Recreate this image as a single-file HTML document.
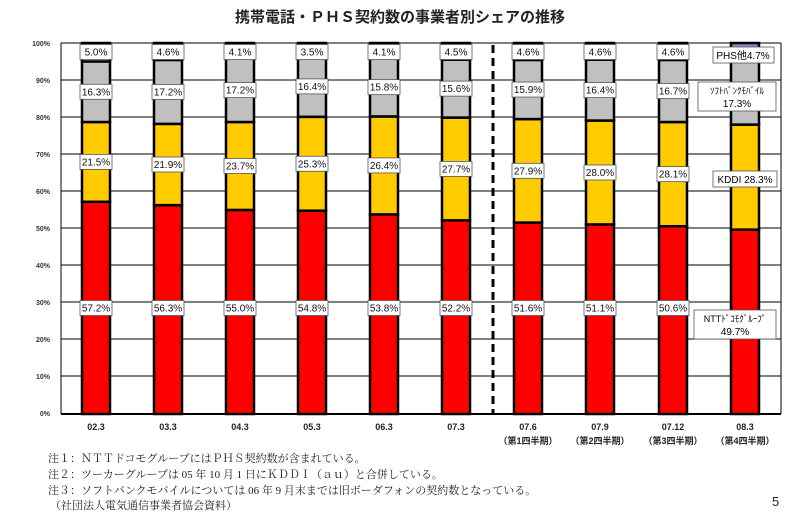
<!DOCTYPE html>
<html><head><meta charset="utf-8"><style>
body{margin:0;background:#fff}
svg{display:block}
text{font-family:"Liberation Sans","Noto Sans CJK JP",sans-serif}
text.serif{font-family:"Liberation Serif","Noto Serif CJK SC",serif}
</style></head><body>
<svg width="800" height="522" xmlns="http://www.w3.org/2000/svg">
<text x="400" y="22" text-anchor="middle" font-size="15" font-weight="bold" fill="#222">携帯電話・ＰＨＳ契約数の事業者別シェアの推移</text>
<g stroke="#000" stroke-width="1">
<line x1="61" y1="43" x2="781" y2="43"/><line x1="61" y1="80" x2="781" y2="80"/><line x1="61" y1="117" x2="781" y2="117"/><line x1="61" y1="154" x2="781" y2="154"/><line x1="61" y1="191" x2="781" y2="191"/><line x1="61" y1="228" x2="781" y2="228"/><line x1="61" y1="265" x2="781" y2="265"/><line x1="61" y1="302" x2="781" y2="302"/><line x1="61" y1="339" x2="781" y2="339"/><line x1="61" y1="376" x2="781" y2="376"/>
<line x1="61" y1="43" x2="61" y2="414"/><line x1="781" y1="43" x2="781" y2="414"/>
</g>
<line x1="61" y1="414" x2="781" y2="414" stroke="#000" stroke-width="2"/>
<g font-size="7" fill="#333" text-anchor="end" font-weight="bold">
<text x="50" y="46">100%</text><text x="50" y="83">90%</text><text x="50" y="120">80%</text><text x="50" y="157">70%</text><text x="50" y="194">60%</text><text x="50" y="231">50%</text><text x="50" y="268">40%</text><text x="50" y="305">30%</text><text x="50" y="342">20%</text><text x="50" y="379">10%</text><text x="50" y="416">0%</text>
</g>
<line x1="493" y1="45" x2="493" y2="414" stroke="#000" stroke-width="3" stroke-dasharray="8,5"/>
<g id="bars"></g>
<g font-size="9" fill="#222" text-anchor="middle" font-weight="bold">
<text x="96" y="430">02.3</text><text x="168" y="430">03.3</text><text x="240" y="430">04.3</text><text x="312" y="430">05.3</text><text x="384" y="430">06.3</text><text x="456" y="430">07.3</text><text x="528" y="430">07.6</text><text x="600" y="430">07.9</text><text x="673" y="430">07.12</text><text x="745" y="430">08.3</text>
<text x="528" y="444">（第1四半期）</text><text x="600" y="444">（第2四半期）</text><text x="673" y="444">（第3四半期）</text><text x="745" y="444">（第4四半期）</text>
</g>
<g font-size="11" fill="#222">
<text class="serif" x="48" y="462">注１：ＮＴＴドコモグループにはＰＨＳ契約数が含まれている。</text>
<text class="serif" x="48" y="478">注２：ツーカーグループは 05 年 10 月 1 日にＫＤＤＩ（ａｕ）と合併している。</text>
<text class="serif" x="48" y="494">注３：ソフトバンクモバイルについては 06 年 9 月末までは旧ボーダフォンの契約数となっている。</text>
<text class="serif" x="50" y="509">（社団法人電気通信事業者協会資料）</text>
</g>
<text x="772" y="506" font-size="13" fill="#222">5</text>
</svg>
<script>
var C=[96,168,240,312,384,456,528,600,673,745];
var R=[57.2,56.3,55.0,54.8,53.8,52.2,51.6,51.1,50.6,49.7];
var K=[21.5,21.9,23.7,25.3,26.4,27.7,27.9,28.0,28.1,28.3];
var S=[16.3,17.2,17.2,16.4,15.8,15.6,15.9,16.4,16.7,17.3];
var P=[5.0,4.6,4.1,3.5,4.1,4.5,4.6,4.6,4.6,4.7];
function y(p){return 414-3.71*p;}
var h='';
function rect(x,p0,p1,f){var a=y(p1),b=y(p0);h+='<rect x="'+(x-14)+'" y="'+a+'" width="28" height="'+(b-a)+'" fill="'+f+'" stroke="#000" stroke-width="2.5"/>';}
function lab(x,yy,t,w){w=w||32;h+='<rect x="'+(x-w/2)+'" y="'+(yy-7.5)+'" width="'+w+'" height="15" fill="#fff" stroke="#555" stroke-width="0.8"/><text x="'+x+'" y="'+(yy+3.5)+'" font-size="10" text-anchor="middle" fill="#111">'+t+'</text>';}
for(var i=0;i<10;i++){var x=C[i],r=R[i],k=r+K[i],s=k+S[i];
rect(x,0,r,'#ff0000');rect(x,r,k,'#ffcc00');rect(x,s,100,i==9?'#9a7fc0':'#fff');rect(x,k,s,'#c0c0c0');
}
for(var i=0;i<9;i++){var x=C[i],r=R[i],k=r+K[i],s=k+S[i];
lab(x,308,r.toFixed(1)+'%');lab(x,y((r+k)/2),K[i].toFixed(1)+'%');lab(x,y((k+s)/2),S[i].toFixed(1)+'%');lab(x,52,P[i].toFixed(1)+'%');}
h+='<rect x="713" y="47" width="61" height="16" fill="#fff" stroke="#555" stroke-width="0.8"/><text x="743" y="59" font-size="10" text-anchor="middle">PHS他4.7%</text>';
h+='<rect x="698" y="82" width="78" height="29" fill="#fff" stroke="#555" stroke-width="0.8"/><text x="737" y="94" font-size="9" text-anchor="middle">ｿﾌﾄﾊﾞﾝｸﾓﾊﾞｲﾙ</text><text x="737" y="107" font-size="10" text-anchor="middle">17.3%</text>';
h+='<rect x="713" y="171" width="64" height="16" fill="#fff" stroke="#555" stroke-width="0.8"/><text x="745" y="183" font-size="10" text-anchor="middle">KDDI 28.3%</text>';
h+='<rect x="694" y="310" width="82" height="29" fill="#fff" stroke="#555" stroke-width="0.8"/><text x="735" y="322" font-size="9" text-anchor="middle">NTTﾄﾞｺﾓｸﾞﾙｰﾌﾟ</text><text x="735" y="335" font-size="10" text-anchor="middle">49.7%</text>';
document.getElementById('bars').innerHTML=h;
</script>
</body></html>
